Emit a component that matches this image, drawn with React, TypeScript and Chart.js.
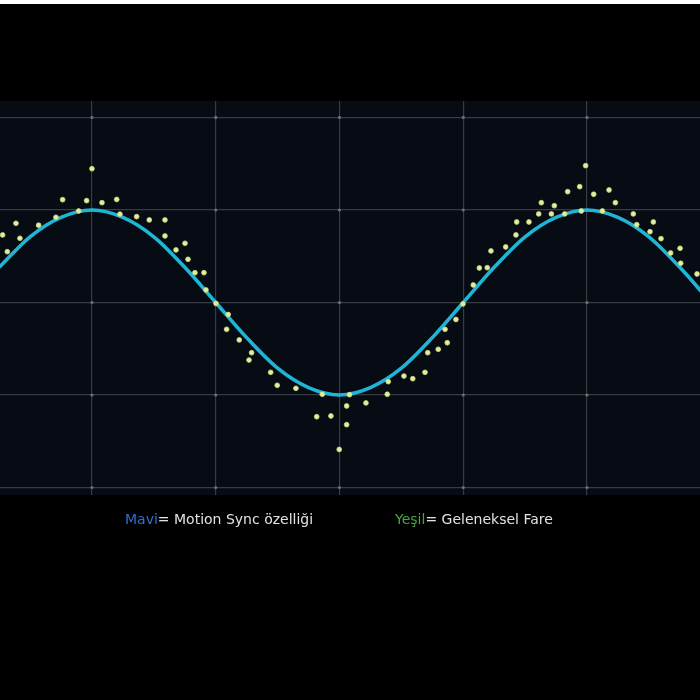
import React, { useEffect, useRef } from "react";
import { Chart, registerables } from "chart.js";

Chart.register(...registerables);

// Blue curve (Motion Sync) read at quarter-grid steps
const curveX = [0.25, 0.5, 0.75, 1, 1.25, 1.5, 1.75, 2, 2.25, 2.5, 2.75, 3, 3.25, 3.5, 3.75, 4, 4.25, 4.5, 4.75, 5, 5.25, 5.5, 5.75, 6];
const curveY = [0.38, 0.71, 0.92, 1, 0.92, 0.71, 0.38, 0, -0.38, -0.71, -0.92, -1, -0.92, -0.71, -0.38, 0, 0.38, 0.71, 0.92, 1, 0.92, 0.71, 0.38, 0];

// Green/yellow dots (traditional mouse)
const dotX = [0.278, 0.386, 0.316, 0.418, 0.569, 0.709, 0.763, 0.893, 0.957, 1.0, 1.081, 1.2, 1.226, 1.361, 1.463, 1.59, 1.59, 1.752, 1.679, 1.776, 1.832, 1.905, 1.921, 2.002, 2.101, 2.088, 2.19, 2.29, 2.269, 2.444, 2.497, 2.648, 2.861, 2.816, 2.931, 3.058, 3.058, 2.998, 3.081, 3.214, 3.386, 3.394, 3.521, 3.592, 3.691, 3.713, 3.798, 3.871, 3.853, 3.941, 3.998, 4.081, 4.13, 4.194, 4.224, 4.343, 4.426, 4.432, 4.531, 4.61, 4.631, 4.712, 4.736, 4.82, 4.844, 4.941, 4.989, 4.954, 5.054, 5.124, 5.178, 5.229, 5.374, 5.402, 5.536, 5.509, 5.598, 5.752, 5.676, 5.757, 5.889];
const dotY = [0.73, 0.856, 0.549, 0.694, 0.835, 0.921, 1.111, 0.989, 1.101, 1.446, 1.079, 1.114, 0.955, 0.928, 0.892, 0.892, 0.719, 0.64, 0.568, 0.467, 0.322, 0.322, 0.135, -0.011, -0.13, -0.29, -0.405, -0.543, -0.622, -0.755, -0.895, -0.928, -0.992, -1.235, -1.227, -1.119, -1.321, -1.589, -0.997, -1.086, -0.992, -0.856, -0.795, -0.824, -0.755, -0.543, -0.506, -0.435, -0.29, -0.184, -0.016, 0.189, 0.373, 0.376, 0.557, 0.6, 0.73, 0.87, 0.87, 0.957, 1.079, 0.957, 1.046, 0.957, 1.198, 1.252, 1.479, 0.989, 1.17, 0.989, 1.216, 1.079, 0.957, 0.841, 0.87, 0.765, 0.69, 0.586, 0.535, 0.424, 0.308];

const xGrid = [1, 2, 3, 4, 5];
const yGrid = [-2, -1, 0, 1, 2];
const xMin = 0.257;
const xMax = 5.913;
const yMin = -2.081;
const yMax = 2.178;

const legendBlue = "Mavi";
const legendBlueText = "= Motion Sync özelliği";
const legendGreen = "Yeşil";
const legendGreenText = "= Geleneksel Fare";

const bgPlugin = {
  id: "bgPanel",
  beforeDraw(chart: any) {
    const { ctx, chartArea } = chart;
    ctx.save();
    ctx.fillStyle = "#000000";
    ctx.fillRect(0, 0, chart.width, chart.height);
    ctx.fillStyle = "#070b13";
    ctx.fillRect(chartArea.left, chartArea.top, chartArea.right - chartArea.left, chartArea.bottom - chartArea.top);
    ctx.restore();
  },
  beforeDatasetsDraw(chart: any) {
    const { ctx } = chart;
    const xs = chart.scales.x;
    const ys = chart.scales.y;
    ctx.save();
    ctx.fillStyle = "#6b6f76";
    for (const gx of xGrid) {
      for (const gy of yGrid) {
        ctx.beginPath();
        ctx.arc(xs.getPixelForValue(gx), ys.getPixelForValue(gy), 1.6, 0, Math.PI * 2);
        ctx.fill();
      }
    }
    ctx.restore();
  },
};

export default function App() {
  const ref = useRef<HTMLCanvasElement | null>(null);
  useEffect(() => {
    if (!ref.current) return;
    const chart = new Chart(ref.current, {
      type: "scatter",
      data: {
        datasets: [
          {
            type: "scatter",
            label: "Geleneksel Fare",
            data: dotX.map((x, i) => ({ x, y: dotY[i] })),
            backgroundColor: "#e6eda3",
            borderColor: "#c4d878",
            borderWidth: 0.8,
            pointRadius: 2.4,
            order: 0,
          },
          {
            type: "line",
            label: "Motion Sync",
            data: curveX.map((x, i) => ({ x, y: curveY[i] })),
            borderColor: "#1fb6d6",
            borderWidth: 3.6,
            pointRadius: 0,
            cubicInterpolationMode: "monotone",
            fill: false,
            order: 1,
          } as any,
        ],
      },
      options: {
        animation: false,
        responsive: false,
        devicePixelRatio: 1,
        layout: { autoPadding: false, padding: { top: 101, bottom: 205, left: 0, right: 0 } },
        plugins: { legend: { display: false }, tooltip: { enabled: false } },
        scales: {
          x: {
            type: "linear",
            min: xMin,
            max: xMax,
            afterBuildTicks: (axis: any) => {
              axis.ticks = xGrid.map((v) => ({ value: v }));
            },
            ticks: { display: false },
            grid: { color: "#383b41", lineWidth: 1.2, drawTicks: false },
            border: { display: false },
          },
          y: {
            type: "linear",
            min: yMin,
            max: yMax,
            afterBuildTicks: (axis: any) => {
              axis.ticks = yGrid.map((v) => ({ value: v }));
            },
            ticks: { display: false },
            grid: { color: "#383b41", lineWidth: 1.2, drawTicks: false },
            border: { display: false },
          },
        },
      },
      plugins: [bgPlugin],
    } as any);
    return () => chart.destroy();
  }, []);

  const textStyle: React.CSSProperties = {
    position: "absolute",
    top: 511,
    fontFamily: "'DejaVu Sans', sans-serif",
    fontSize: 14,
    lineHeight: "17px",
    color: "#e2e2e2",
    whiteSpace: "nowrap",
  };

  return (
    <div style={{ position: "fixed", left: 0, top: 0, width: 700, height: 700, background: "#000", overflow: "hidden" }}>
      <canvas ref={ref} width={700} height={700} style={{ position: "absolute", left: 0, top: 0, width: 700, height: 700 }} />
      <div style={{ position: "absolute", left: 0, top: 0, width: 700, height: 4, background: "#ffffff" }} />
      <div style={{ ...textStyle, left: 125 }}>
        <span style={{ color: "#2f6fd2" }}>{legendBlue}</span>
        {legendBlueText}
      </div>
      <div style={{ ...textStyle, left: 395 }}>
        <span style={{ color: "#47a63a" }}>{legendGreen}</span>
        {legendGreenText}
      </div>
    </div>
  );
}
